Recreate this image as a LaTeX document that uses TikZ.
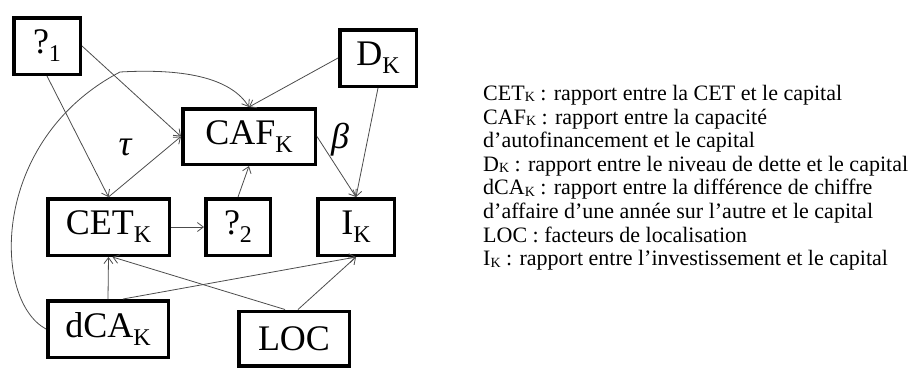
\documentclass[tikz,border=0pt]{standalone}
\usepackage{fontspec}
\setmainfont{Liberation Serif}
\usetikzlibrary{arrows.meta}
\newcommand{\lowsub}[1]{\raisebox{-8pt}{\fontsize{24}{24}\selectfont #1}}
\newcommand{\legsub}[1]{\raisebox{-1.5pt}{\fontsize{14}{14}\selectfont #1}}
\tikzset{box/.style={draw=black, line width=3.5pt, inner sep=0pt, font=\fontsize{36}{40}\selectfont},
  link/.style={draw=black!70, line width=0.8pt, -{Straight Barb[length=6pt,width=9pt]}},
  greek/.style={font=\fontsize{36}{40}\selectfont\itshape}}

\begin{document}
\begin{tikzpicture}[x=1pt,y=-1pt]
  \useasboundingbox (0,0) rectangle (922,368);
  \node[box, minimum width=66.5, minimum height=56.5] (q1) at (47,46) {?\lowsub{1}};
  \node[box, minimum width=76.5, minimum height=56.5] (dk) at (378,58) {D\lowsub{K}};
  \node[box, minimum width=132.5, minimum height=55.5] (caf) at (249,136.5) {CAF\lowsub{K}};
  \node[box, minimum width=121.5, minimum height=56.5] (cet) at (108.5,227) {CET\lowsub{K}};
  \node[box, minimum width=64.5, minimum height=56.5] (q2) at (238,227) {?\lowsub{2}};
  \node[box, minimum width=76.5, minimum height=56.5] (ik) at (356,227) {I\lowsub{K}};
  \node[box, minimum width=120.5, minimum height=56.5] (dca) at (108,329) {dCA\lowsub{K}};
  \node[box, minimum width=110.5, minimum height=54.5] (loc) at (294,338.5) {LOC};
  \node[greek] (tau) at (125,147) {τ};
  \node[greek] (beta) at (340,140) {β};
  % liens
  \draw[link] (q1.south) -- (cet.north);
  \draw[link] (q1.east) -- (caf.west);
  \draw[link] (cet.north) -- (caf.west);
  \draw[link] (dk.west) -- (caf.north);
  \draw[link] (dk.south) -- (ik.north);
  \draw[link] (caf.east) -- (ik.north);
  \draw[link] (cet.east) -- (q2.west);
  \draw[link] (q2.north) -- (caf.south);
  \draw[link] (dca.north) -- (cet.south);
  \draw[link] ([xshift=15pt]dca.north) -- (ik.south);
  \draw[link] ([xshift=-9pt]loc.north) -- ([xshift=4pt]cet.south);
  \draw[link] ([xshift=4pt]loc.north) -- (ik.south);
  \draw[link] (dca.west) .. controls (-8,300) and (-10,140) .. (120,72)
    .. controls (190,68) and (232,80) .. (caf.north);
  % legende
  \node[anchor=north west, inner sep=0pt, align=left, font=\fontsize{22}{23.6}\selectfont] (legend) at (483,85)
    {CET\legsub{K} : rapport entre la CET et le capital\\
     CAF\legsub{K} : rapport entre la capacité\\
     d’autofinancement et le capital\\
     D\legsub{K} : rapport entre le niveau de dette et le capital\\
     dCA\legsub{K} : rapport entre la différence de chiffre\\
     d’affaire d’une année sur l’autre et le capital\\
     LOC : facteurs de localisation\\
     I\legsub{K} : rapport entre l’investissement et le capital};
\end{tikzpicture}
\end{document}
